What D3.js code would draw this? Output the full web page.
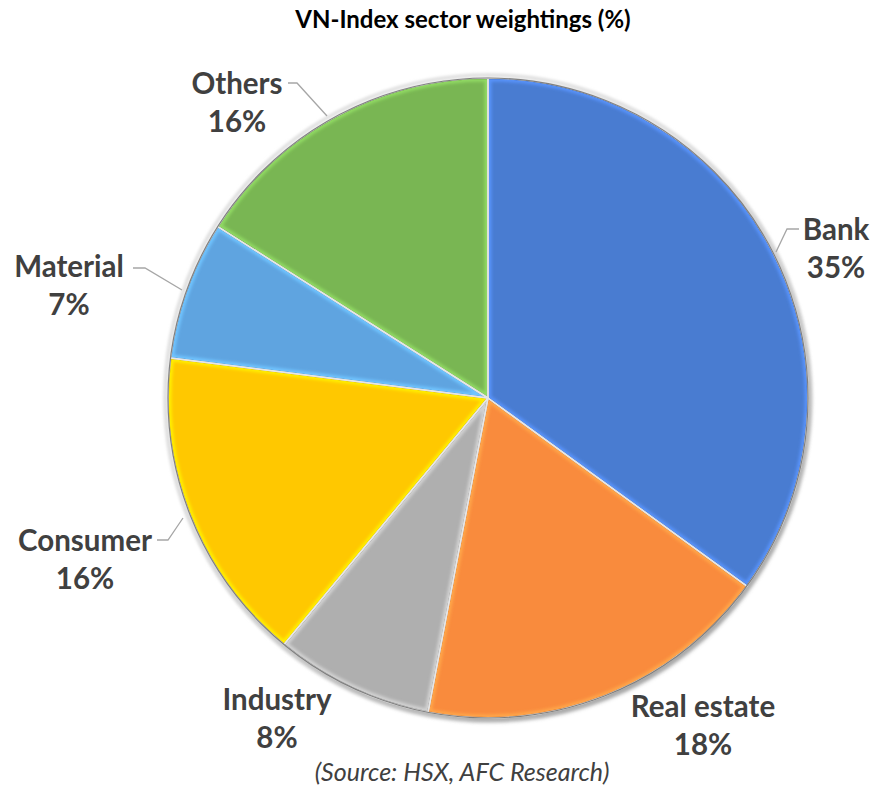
<!DOCTYPE html>
<html>
<head>
<meta charset="utf-8">
<script src="https://cdn.jsdelivr.net/npm/d3@7"></script>
<style>
  html, body { margin: 0; padding: 0; background: #ffffff; }
  svg { display: block; }
</style>
</head>
<body>
<svg id="chart" width="871" height="788"></svg>
<script>
// ---- data ----
const categories = ["Bank", "Real estate", "Industry", "Consumer", "Material", "Others"];
const weights = [35, 18, 8, 16, 7, 16];
const colors = ["#4A7BD1", "#F98B3D", "#AFAFAF", "#FFC800", "#5EA4E0", "#79B653"];
const titleText = "VN-Index sector weightings (%)";
const sourceText = "(Source: HSX, AFC Research)";

// ---- layout ----
const W = 871, H = 788;
const cx = 488, cy = 398, R = 320;
// label block centres relative to pie centre (layout only)
const labelOffset = [[348, -149], [215, 328], [-211, 321], [-403, 162], [-419, -112], [-251, -295]];
// leader lines (relative to centre), null = none
const leaders = [
  [[311, -169], [299, -169], [288, -146]],
  null,
  null,
  [[-331, 142], [-320, 142], [-305, 120]],
  [[-355, -130], [-343, -130], [-306, -108]],
  [[-200, -315], [-191, -315], [-161, -282]]
];

const svg = d3.select("#chart");
const defs = svg.append("defs");

const shadow = defs.append("filter").attr("id", "shadow")
  .attr("x", "-10%").attr("y", "-10%").attr("width", "120%").attr("height", "120%");
shadow.append("feDropShadow").attr("dx", 2).attr("dy", 3).attr("stdDeviation", 2.5)
  .attr("flood-color", "#000").attr("flood-opacity", 0.35);

const blur = defs.append("filter").attr("id", "soft");
blur.append("feGaussianBlur").attr("stdDeviation", 1.5);

// title
svg.append("text")
  .attr("x", 463).attr("y", 28)
  .attr("text-anchor", "middle")
  .attr("font-family", "Lato, 'Open Sans', sans-serif")
  .attr("font-weight", 700)
  .attr("font-size", 24)
  .attr("fill", "#000")
  .text(titleText);

const pie = d3.pie().sort(null).value(d => d)(weights);
const arc = d3.arc().innerRadius(0).outerRadius(R);

const g = svg.append("g").attr("transform", `translate(${cx},${cy})`);

// outer soft ring
g.append("circle").attr("r", R + 3).attr("fill", "none")
  .attr("stroke", "#d9d9d9").attr("stroke-width", 3).attr("filter", "url(#soft)");

const slices = g.append("g").attr("filter", "url(#shadow)");

pie.forEach((p, i) => {
  defs.append("clipPath").attr("id", "clip" + i)
    .append("path").attr("d", arc(p));
});

slices.selectAll("path.slice")
  .data(pie)
  .join("path")
  .attr("class", "slice")
  .attr("d", arc)
  .attr("fill", (d, i) => colors[i]);

// bevel highlight inside edges
g.selectAll("path.bevel")
  .data(pie)
  .join("path")
  .attr("class", "bevel")
  .attr("d", arc)
  .attr("fill", "none")
  .attr("clip-path", (d, i) => `url(#clip${i})`)
  .attr("stroke", (d, i) => d3.color(colors[i]).brighter(0.5))
  .attr("stroke-width", 7)
  .attr("filter", "url(#soft)");

// dark inner shade
g.selectAll("path.shade")
  .data(pie)
  .join("path")
  .attr("class", "shade")
  .attr("d", arc)
  .attr("fill", "none")
  .attr("clip-path", (d, i) => `url(#clip${i})`)
  .attr("stroke", (d, i) => d3.color(colors[i]).darker(0.6))
  .attr("stroke-width", 2);

// separators
g.selectAll("path.sep")
  .data(pie)
  .join("path")
  .attr("class", "sep")
  .attr("d", arc)
  .attr("fill", "none")
  .attr("stroke", "#e6e6e6")
  .attr("stroke-width", 1.5)
  .attr("stroke-linejoin", "round");

// outer dark edge
g.append("circle").attr("r", R).attr("fill", "none")
  .attr("stroke", "#808080").attr("stroke-width", 1.2);

// leader lines
leaders.forEach(pts => {
  if (!pts) return;
  g.append("path")
    .attr("d", d3.line()(pts))
    .attr("fill", "none")
    .attr("stroke", "#a6a6a6")
    .attr("stroke-width", 1.3);
});

// labels
const labels = g.selectAll("g.lab")
  .data(pie)
  .join("g")
  .attr("class", "lab")
  .attr("transform", (d, i) => `translate(${labelOffset[i][0]},${labelOffset[i][1]})`);

labels.append("text")
  .attr("text-anchor", "middle")
  .attr("font-family", "Lato, 'Open Sans', sans-serif")
  .attr("font-weight", 700)
  .attr("font-size", 29.5)
  .attr("fill", "#404040")
  .attr("y", -9)
  .text((d, i) => categories[i]);

labels.append("text")
  .attr("text-anchor", "middle")
  .attr("font-family", "Lato, 'Open Sans', sans-serif")
  .attr("font-weight", 700)
  .attr("font-size", 29.5)
  .attr("fill", "#404040")
  .attr("y", 29)
  .text((d, i) => weights[i] + "%");

// source
svg.append("text")
  .attr("x", 462).attr("y", 781)
  .attr("text-anchor", "middle")
  .attr("font-family", "Lato, 'Open Sans', sans-serif")
  .attr("font-style", "italic")
  .attr("font-size", 25)
  .attr("fill", "#404040")
  .text(sourceText);
</script>
</body>
</html>
